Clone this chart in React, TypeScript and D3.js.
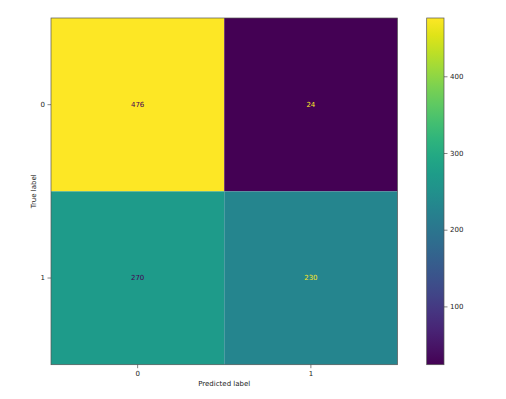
import * as d3 from "d3";
import { useRef, useEffect } from "react";

const classes = ["0", "1"];
const counts = [
  [476, 24],
  [270, 230],
];
const cbarTicks = [100, 200, 300, 400];

const W = 506;
const H = 399;
const FONT = "DejaVu Sans, sans-serif";
const FS = 7;

export default function App() {
  const svgRef = useRef<SVGSVGElement>(null);

  useEffect(() => {
    const svg = d3.select(svgRef.current);
    svg.selectAll("*").remove();

    const left = 51, right = 397.5, top = 18, bottom = 364.7;

    const x = d3.scaleBand().domain(classes).range([left, right]);
    const y = d3.scaleBand().domain(classes).range([top, bottom]);

    const flat = counts.flat();
    const vmin = d3.min(flat)!;
    const vmax = d3.max(flat)!;
    const color = d3.scaleSequential(d3.interpolateViridis).domain([vmin, vmax]);
    const thresh = (vmin + vmax) / 2;

    const cells = counts.flatMap((row, i) =>
      row.map((v, j) => ({ row: classes[i], col: classes[j], v }))
    );

    svg
      .append("g")
      .selectAll("rect")
      .data(cells)
      .join("rect")
      .attr("x", (d) => x(d.col)!)
      .attr("y", (d) => y(d.row)!)
      .attr("width", x.bandwidth())
      .attr("height", y.bandwidth())
      .attr("fill", (d) => color(d.v));

    svg
      .append("g")
      .selectAll("text")
      .data(cells)
      .join("text")
      .attr("x", (d) => x(d.col)! + x.bandwidth() / 2)
      .attr("y", (d) => y(d.row)! + y.bandwidth() / 2)
      .attr("text-anchor", "middle")
      .attr("dominant-baseline", "central")
      .attr("font-family", FONT)
      .attr("font-size", FS)
      .attr("fill", (d) => (d.v < thresh ? color(vmax) : color(vmin)))
      .text((d) => d.v);

    // frame
    svg
      .append("rect")
      .attr("x", left)
      .attr("y", top)
      .attr("width", right - left)
      .attr("height", bottom - top)
      .attr("fill", "none")
      .attr("stroke", "#555")
      .attr("stroke-width", 0.7);

    const xAxis = d3.axisBottom(x).tickSize(3.5).tickPadding(2.5);
    const gx = svg
      .append("g")
      .attr("transform", `translate(0,${bottom})`)
      .call(xAxis);
    const yAxis = d3.axisLeft(y).tickSize(3.5).tickPadding(2.5);
    const gy = svg
      .append("g")
      .attr("transform", `translate(${left},0)`)
      .call(yAxis);

    [gx, gy].forEach((g) => {
      g.select(".domain").remove();
      g.selectAll("line").attr("stroke", "#333").attr("stroke-width", 0.6);
      g.selectAll("text")
        .attr("font-family", FONT)
        .attr("font-size", FS)
        .attr("fill", "#222");
    });

    svg
      .append("text")
      .attr("x", (left + right) / 2)
      .attr("y", 386)
      .attr("text-anchor", "middle")
      .attr("font-family", FONT)
      .attr("font-size", FS)
      .attr("fill", "#222")
      .text("Predicted label");

    svg
      .append("text")
      .attr("transform", `translate(35.5,${(top + bottom) / 2}) rotate(-90)`)
      .attr("text-anchor", "middle")
      .attr("font-family", FONT)
      .attr("font-size", FS)
      .attr("fill", "#222")
      .text("True label");

    // colorbar
    const cbX = 426.7, cbW = 17.3;
    const cy = d3.scaleLinear().domain([vmin, vmax]).range([bottom, top]);
    const grad = svg
      .append("defs")
      .append("linearGradient")
      .attr("id", "cbar")
      .attr("x1", 0)
      .attr("y1", 1)
      .attr("x2", 0)
      .attr("y2", 0);
    d3.range(0, 1.0001, 0.05).forEach((t) => {
      grad
        .append("stop")
        .attr("offset", t)
        .attr("stop-color", d3.interpolateViridis(t));
    });
    svg
      .append("rect")
      .attr("x", cbX)
      .attr("y", top)
      .attr("width", cbW)
      .attr("height", bottom - top)
      .attr("fill", "url(#cbar)")
      .attr("stroke", "#555")
      .attr("stroke-width", 0.7);

    const gc = svg
      .append("g")
      .attr("transform", `translate(${cbX + cbW},0)`)
      .call(d3.axisRight(cy).tickValues(cbarTicks).tickSize(3.5).tickPadding(2.5));
    gc.select(".domain").remove();
    gc.selectAll("line").attr("stroke", "#333").attr("stroke-width", 0.6);
    gc.selectAll("text")
      .attr("font-family", FONT)
      .attr("font-size", FS)
      .attr("fill", "#222");
  }, []);

  return (
    <svg
      ref={svgRef}
      width={W}
      height={H}
      style={{ position: "absolute", left: 0, top: 0, background: "#fff" }}
    />
  );
}
